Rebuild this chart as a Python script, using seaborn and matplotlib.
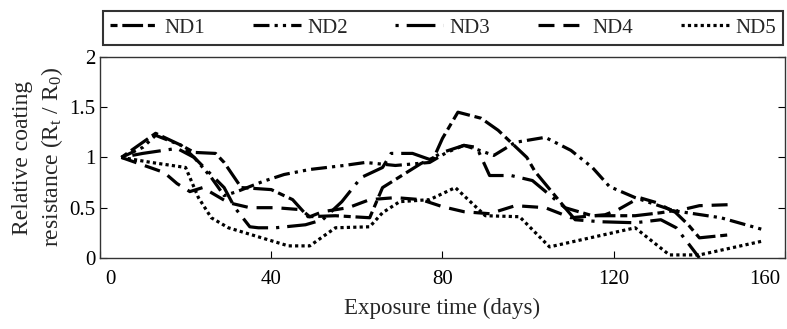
import numpy as np
import pandas as pd
import matplotlib
matplotlib.use("Agg")
import matplotlib.pyplot as plt
import matplotlib.transforms as mtransforms
import seaborn as sns

# ---- data ----
labels = ["ND1", "ND2", "ND3", "ND4", "ND5"]

x_nd1 = [5, 13, 19, 22, 27, 29, 33, 40, 45, 48.6, 55, 63, 66, 75, 78, 80, 83.6, 89, 93, 99.7, 101.6, 108.6, 115, 125, 131, 134, 137.4, 140, 147]
y_nd1 = [1.0, 1.24, 1.12, 1.05, 1.04, 0.95, 0.7, 0.68, 0.58, 0.41, 0.42, 0.4, 0.7, 0.94, 1.0, 1.19, 1.45, 1.39, 1.27, 1.0, 0.86, 0.5, 0.42, 0.42, 0.45, 0.47, 0.33, 0.2, 0.23]

x_nd2 = [5, 10, 13, 19, 22, 26, 29, 32, 38, 43, 49, 57, 62, 69, 77, 81, 85, 88, 92, 97, 104, 110, 115, 119, 125, 134, 145, 155]
y_nd2 = [1.0, 1.1, 1.22, 1.12, 1.0, 0.8, 0.62, 0.66, 0.76, 0.83, 0.88, 0.92, 0.95, 0.92, 0.95, 1.05, 1.12, 1.08, 1.02, 1.15, 1.2, 1.07, 0.9, 0.71, 0.6, 0.47, 0.4, 0.28]

x_nd3 = [5, 10, 18, 22, 29, 31.5, 35, 37, 41, 48, 52, 56.5, 61, 66, 68, 73, 77, 80, 85, 88, 91, 96, 101, 108.6, 111, 117, 125, 131, 134.6, 140]
y_nd3 = [1.0, 1.04, 1.09, 1.0, 0.7, 0.5, 0.31, 0.3, 0.3, 0.33, 0.38, 0.56, 0.8, 0.9, 1.04, 1.04, 0.98, 1.05, 1.12, 1.1, 0.82, 0.82, 0.77, 0.5, 0.38, 0.36, 0.35, 0.38, 0.3, 0.0]

x_nd4 = [5, 15, 18, 21, 24, 30, 35, 41, 47, 49, 52, 58, 63, 69, 75, 80, 85, 91, 97, 104, 110, 118, 121, 126, 130, 134, 140, 147]
y_nd4 = [1.0, 0.85, 0.74, 0.66, 0.7, 0.55, 0.5, 0.5, 0.48, 0.41, 0.46, 0.5, 0.58, 0.6, 0.58, 0.51, 0.46, 0.44, 0.52, 0.5, 0.4, 0.43, 0.48, 0.6, 0.55, 0.46, 0.52, 0.53]

x_nd5 = [5, 12, 20, 23, 26, 30, 37, 44, 49, 55, 63, 66, 70, 77, 83, 90, 98, 105, 125, 133, 140, 155]
y_nd5 = [1.0, 0.95, 0.9, 0.6, 0.4, 0.3, 0.21, 0.12, 0.12, 0.3, 0.31, 0.45, 0.56, 0.58, 0.7, 0.42, 0.41, 0.11, 0.30, 0.03, 0.03, 0.17]

xs = [x_nd1, x_nd2, x_nd3, x_nd4, x_nd5]
ys = [y_nd1, y_nd2, y_nd3, y_nd4, y_nd5]

y_ticks = [0, 0.5, 1, 1.5, 2]
y_ticklabels = ["0", "0.5", "1", "1.5", "2"]
x_ticks = [0, 40, 80, 120, 160]
x_ticklabels = ["0", "40", "80", "120", "160"]

# ---- style ----
sns.set_style("ticks")
plt.rcParams["font.family"] = ["Liberation Serif", "DejaVu Serif"]
plt.rcParams["mathtext.default"] = "regular"

dash_patterns = [
    (2.2, 1.5, 6.5, 1.5),           # ND1: short-long dash
    (5.0, 1.6, 1.0, 1.6, 1.0, 1.6), # ND2: dash-dot-dot
    (1.0, 2.5, 9.0, 2.5),           # ND3: dot - long dash
    (5.0, 2.8),                     # ND4: dashed
    (1.0, 1.0),                     # ND5: dotted
]

frames = []
for lab, x, y in zip(labels, xs, ys):
    frames.append(pd.DataFrame({"day": x, "val": y, "series": lab}))
df = pd.concat(frames, ignore_index=True)

fig = plt.figure(figsize=(7.87, 3.29), dpi=100)
ax = fig.add_axes([0.127, 0.216, 0.8705, 0.611])

handles = []
for lab, pat in zip(labels, dash_patterns):
    sub = df[df["series"] == lab]
    sns.lineplot(data=sub, x="day", y="val", ax=ax, color="black",
                 linewidth=2.3, sort=False, estimator=None, legend=False)
    ln = ax.lines[-1]
    ln.set_dashes(pat)
    ln.set_dash_capstyle("butt")
    handles.append(ln)

ax.set_xlim(0, 160)
ax.set_ylim(0, 2)
ax.set_xticks(x_ticks)
ax.set_xticklabels(x_ticklabels)
ax.set_yticks(y_ticks)
ax.set_yticklabels(y_ticklabels)
ax.tick_params(direction="in", length=5, width=0.8, labelsize=15, colors="black",
               right=True, top=False)
ax.tick_params(axis="x", pad=9)
ax.tick_params(axis="y", pad=3)
for sp in ax.spines.values():
    sp.set_visible(True)
    sp.set_linewidth(1.0)
    sp.set_color("#333333")

# shift the end tick labels inward as in the reference
xtl = ax.get_xticklabels()
xtl[0].set_transform(xtl[0].get_transform() +
                     mtransforms.ScaledTranslation(10 / 100, 0, fig.dpi_scale_trans))
xtl[-1].set_transform(xtl[-1].get_transform() +
                      mtransforms.ScaledTranslation(-20 / 100, 0, fig.dpi_scale_trans))

ax.set_xlabel("Exposure time (days)", fontsize=16.5, labelpad=6)
ax.set_ylabel("Relative coating\nresistance (R$_t$ / R$_0$)", fontsize=17,
              labelpad=3, linespacing=1.35)

leg = fig.legend(handles, labels, loc="lower left",
                 bbox_to_anchor=(0.131, 0.863, 0.864, 0.113), mode="expand",
                 ncol=5, frameon=True, fancybox=False, edgecolor="black",
                 borderaxespad=0, fontsize=15, handlelength=2.3,
                 handletextpad=0.3, borderpad=0.35)
leg.get_frame().set_linewidth(1.5)
for h in leg.get_lines():
    h.set_linewidth(2.3)

fig.savefig("out.png", dpi=100)
